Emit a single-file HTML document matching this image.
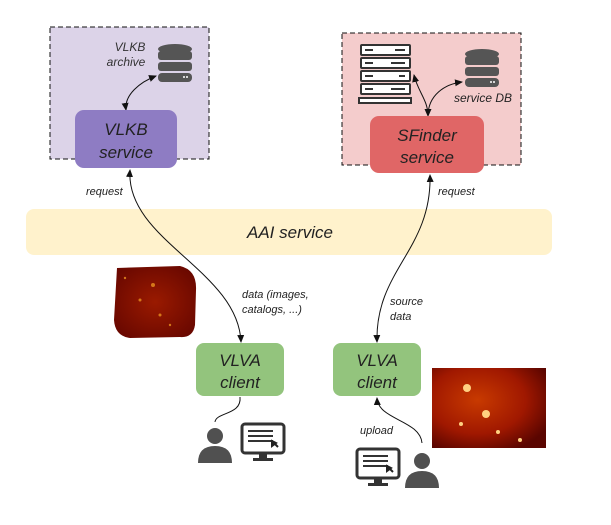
<!DOCTYPE html>
<html><head><style>
body{margin:0;background:#fff;}
svg text{font-family:"Liberation Sans",sans-serif;font-style:italic;}
</style></head><body>
<svg width="611" height="520" viewBox="0 0 611 520" xmlns="http://www.w3.org/2000/svg">
<defs>
<marker id="ah" markerWidth="8" markerHeight="8" refX="7" refY="4" orient="auto-start-reverse" markerUnits="userSpaceOnUse">
<path d="M0,0.5 L8,4 L0,7.5 Z" fill="#111"/></marker>
<radialGradient id="g1" cx="50%" cy="50%" r="60%"><stop offset="0" stop-color="#9a1a00"/><stop offset="1" stop-color="#6a0800"/></radialGradient>
<radialGradient id="g2" cx="40%" cy="40%" r="70%"><stop offset="0" stop-color="#c83a00"/><stop offset="0.6" stop-color="#a01800"/><stop offset="1" stop-color="#5a0500"/></radialGradient>
<g id="db"><ellipse cx="0" cy="0" rx="17" ry="5" fill="#555"/>
<rect x="-17" y="2" width="34" height="9" rx="3" fill="#555"/><rect x="-17" y="13" width="34" height="9" rx="3" fill="#555"/><rect x="-17" y="24" width="34" height="9" rx="4" fill="#555"/>
<circle cx="9" cy="28" r="1" fill="#fff"/><circle cx="12" cy="28" r="1" fill="#fff"/></g>
<g id="person"><circle cx="0" cy="0" r="8" fill="#505050"/><path d="M-17,27 Q-17,10 0,10 Q17,10 17,27 Z" fill="#505050"/></g>
<g id="mon"><rect x="0" y="0" width="42" height="29" rx="3" fill="#fff" stroke="#333" stroke-width="3"/>
<rect x="6" y="6" width="25" height="2" fill="#333"/><rect x="6" y="11" width="25" height="2" fill="#333"/><rect x="6" y="16" width="25" height="2" fill="#333"/>
<path d="M30,17 L36,23 M30,17 L30,22 L34,19Z" stroke="#222" stroke-width="2" fill="#222"/>
<rect x="17" y="30" width="8" height="4" fill="#333"/><rect x="11" y="34" width="20" height="3" fill="#333"/></g>
</defs>

<rect x="50" y="27" width="159" height="132" fill="#dcd3e8" stroke="#111" stroke-dasharray="5,3"/>
<rect x="342" y="33" width="179" height="132" fill="#f4cccc" stroke="#111" stroke-dasharray="5,3"/>

<use href="#db" x="175" y="49"/>
<text x="130" y="51" font-size="12" text-anchor="middle" fill="#333">VLKB</text>
<text x="126" y="66" font-size="12" text-anchor="middle" fill="#333">archive</text>
<path d="M126,110 C124,95 140,82 156,76" fill="none" stroke="#111" marker-start="url(#ah)" marker-end="url(#ah)"/>

<rect x="75" y="110" width="102" height="58" rx="9" fill="#8e7cc3"/>
<text x="126" y="135" font-size="17" text-anchor="middle" fill="#222">VLKB</text>
<text x="126" y="158" font-size="17" text-anchor="middle" fill="#222">service</text>

<g fill="#fff" stroke="#333" stroke-width="2">
<rect x="361" y="45" width="49" height="10" rx="1"/><rect x="361" y="58" width="49" height="10" rx="1"/><rect x="361" y="71" width="49" height="10" rx="1"/><rect x="361" y="84" width="49" height="10" rx="1"/><rect x="359" y="98" width="52" height="5"/></g>
<g fill="#333"><rect x="365" y="49" width="8" height="2"/><rect x="365" y="62" width="8" height="2"/><rect x="365" y="75" width="8" height="2"/><rect x="365" y="88" width="8" height="2"/>
<rect x="395" y="49" width="10" height="2"/><rect x="391" y="62" width="14" height="2"/><rect x="399" y="75" width="6" height="2"/><rect x="391" y="88" width="14" height="2"/></g>
<use href="#db" x="482" y="54"/>
<text x="483" y="102" font-size="12" text-anchor="middle" fill="#222">service DB</text>
<path d="M428,116 C428,100 418,92 414,75" fill="none" stroke="#111" marker-start="url(#ah)" marker-end="url(#ah)"/>
<path d="M428,116 C428,95 445,84 462,82" fill="none" stroke="#111" marker-end="url(#ah)"/>

<rect x="370" y="116" width="114" height="57" rx="9" fill="#e06666"/>
<text x="427" y="141" font-size="17" text-anchor="middle" fill="#222">SFinder</text>
<text x="427" y="163" font-size="17" text-anchor="middle" fill="#222">service</text>

<rect x="26" y="209" width="526" height="46" rx="8" fill="#fff2cc"/>
<text x="290" y="238" font-size="17" text-anchor="middle" fill="#222">AAI service</text>

<text x="86" y="195" font-size="11" fill="#222">request</text>
<text x="438" y="195" font-size="11" fill="#222">request</text>
<text x="242" y="298" font-size="11" fill="#222">data (images,</text>
<text x="242" y="313" font-size="11" fill="#222">catalogs, ...)</text>
<text x="390" y="305" font-size="11" fill="#222">source</text>
<text x="390" y="320" font-size="11" fill="#222">data</text>
<text x="360" y="434" font-size="11" fill="#222">upload</text>

<path d="M130,170 C125,240 238,270 241,342" fill="none" stroke="#111" marker-start="url(#ah)" marker-end="url(#ah)"/>
<path d="M430,175 C432,250 375,270 377,342" fill="none" stroke="#111" marker-start="url(#ah)" marker-end="url(#ah)"/>
<path d="M240,397 C242,415 216,412 215,422" fill="none" stroke="#111"/>
<path d="M422,443 C420,420 378,420 377,398" fill="none" stroke="#111" marker-end="url(#ah)"/>

<rect x="196" y="343" width="88" height="53" rx="8" fill="#93c47d"/>
<text x="240" y="366" font-size="17" text-anchor="middle" fill="#222">VLVA</text>
<text x="240" y="388" font-size="17" text-anchor="middle" fill="#222">client</text>
<rect x="333" y="343" width="88" height="53" rx="8" fill="#93c47d"/>
<text x="377" y="366" font-size="17" text-anchor="middle" fill="#222">VLVA</text>
<text x="377" y="388" font-size="17" text-anchor="middle" fill="#222">client</text>

<path d="M117,268 L180,266 Q197,270 196,290 L195,325 Q193,338 180,337 L130,338 Q115,336 114,320 Z" fill="url(#g1)"/>
<g fill="#e89020" opacity="0.8"><circle cx="153" cy="285" r="2"/><circle cx="140" cy="300" r="1.5"/><circle cx="160" cy="315" r="1.5"/><circle cx="170" cy="325" r="1.2"/><circle cx="125" cy="278" r="1.2"/></g>
<rect x="432" y="368" width="114" height="80" fill="url(#g2)"/>
<g fill="#ffd080"><circle cx="467" cy="388" r="4"/><circle cx="486" cy="414" r="4"/><circle cx="461" cy="424" r="2"/><circle cx="498" cy="432" r="2"/><circle cx="520" cy="440" r="2"/></g>

<use href="#person" x="215" y="436"/>
<use href="#mon" x="242" y="424"/>
<use href="#mon" x="357" y="449"/>
<use href="#person" x="422" y="461"/>
</svg>
</body></html>
